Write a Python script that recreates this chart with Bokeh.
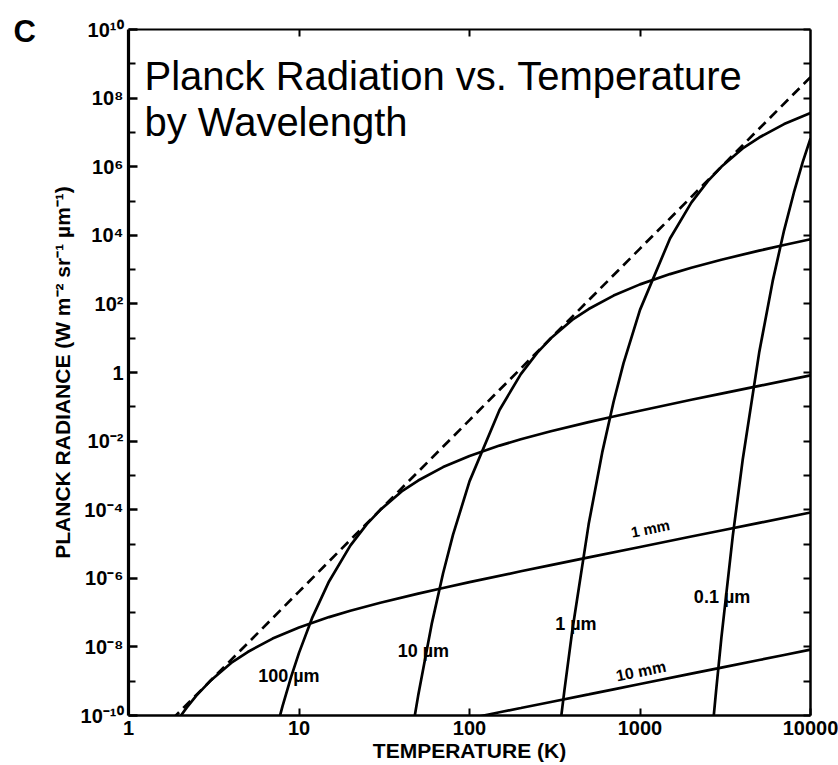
from bokeh.plotting import figure
from bokeh.models import LogAxis, FixedTicker, Label, CustomJSTickFormatter
from bokeh.embed import file_html
from bokeh.resources import INLINE

# ---- data: temperature (K) vs Planck radiance (W m^-2 sr^-1 um^-1)
t_envelope = [1.8, 10, 100, 1000, 10000]
b_envelope = [7.7e-11, 4.1e-7, 4.1e-2, 4.1e3, 4.1e8]

t_10mm = [100, 150, 200, 300, 500, 700, 1000, 2000, 3000, 5000, 7000, 10000]
b_10mm = [8.2e-11, 1.24e-10, 1.65e-10, 2.48e-10, 4.13e-10, 5.8e-10, 8.3e-10,
          1.66e-9, 2.48e-9, 4.14e-9, 5.8e-9, 8.3e-9]

t_1mm = [1.8, 2, 2.2, 2.5, 3, 4, 5, 7, 10, 15, 20, 30, 50, 70, 100, 200, 300,
         500, 1000, 2000, 3000, 5000, 10000]
b_1mm = [4.0e-11, 9.0e-11, 1.72e-10, 3.8e-10, 9.9e-10, 3.4e-9, 7.1e-9, 1.75e-8,
         3.7e-8, 7.4e-8, 1.13e-7, 1.94e-7, 3.57e-7, 5.22e-7, 7.7e-7, 1.6e-6,
         2.43e-6, 4.08e-6, 8.2e-6, 1.65e-5, 2.48e-5, 4.13e-5, 8.3e-5]

t_100um = [7, 7.5, 8, 9, 10, 12, 15, 20, 25, 30, 40, 50, 70, 100, 150, 200, 300,
           500, 700, 1000, 2000, 3000, 5000, 10000]
b_100um = [1.4e-11, 5.6e-11, 1.84e-10, 1.36e-9, 6.7e-9, 7.4e-8, 8.1e-7, 9.0e-6,
           3.8e-5, 9.9e-5, 3.4e-4, 7.1e-4, 1.75e-3, 3.7e-3, 7.4e-3, 1.13e-2,
           1.94e-2, 3.57e-2, 5.22e-2, 7.69e-2, 0.160, 0.243, 0.408, 0.822]

t_10um = [45, 48, 50, 60, 70, 80, 100, 150, 200, 250, 300, 400, 500, 700, 1000,
          1500, 2000, 3000, 5000, 7000, 10000]
b_10um = [1.5e-11, 1.15e-10, 3.8e-10, 4.6e-8, 1.4e-6, 1.84e-5, 6.7e-4, 8.1e-2,
          0.90, 3.8, 9.9, 34, 71, 175, 371, 740, 1130, 1940, 3570, 5220, 7690]

t_1um = [330, 345, 360, 400, 500, 600, 700, 800, 1000, 1500, 2000, 2500, 3000,
         4000, 5000, 7000, 10000]
b_1um = [1.4e-11, 9.3e-11, 5.2e-10, 2.8e-8, 3.8e-5, 4.6e-3, 0.14, 1.84, 67,
         8.1e3, 9.0e4, 3.8e5, 9.9e5, 3.4e6, 7.1e6, 1.75e7, 3.7e7]

t_01um = [2600, 2700, 2800, 3000, 3500, 4000, 5000, 6000, 7000, 8000, 9000, 10000]
b_01um = [1.1e-11, 8.5e-11, 5.8e-10, 1.8e-8, 1.7e-5, 2.8e-3, 3.8, 4.6e2, 1.4e4,
          1.8e5, 1.36e6, 6.7e6]

# tick labels
x_ticks = [1, 10, 100, 1000, 10000]
x_tick_labels = ["1", "10", "100", "1000", "10000"]
y_ticks = [1e-10, 1e-8, 1e-6, 1e-4, 1e-2, 1, 1e2, 1e4, 1e6, 1e8, 1e10]
y_tick_labels = ["10⁻¹⁰", "10⁻⁸", "10⁻⁶", "10⁻⁴", "10⁻²", "1",
                 "10²", "10⁴", "10⁶", "10⁸", "10¹⁰"]
y_minor_ticks = [1e-9, 1e-7, 1e-5, 1e-3, 1e-1, 1e1, 1e3, 1e5, 1e7, 1e9]
y_all_decades = sorted(y_ticks + y_minor_ticks)

# curve labels: text, temperature, radiance, angle, size
curve_labels = [
    ("100 µm", 5.76, 1.45e-9, 0.0, "18px"),
    ("10 µm", 37.9, 7.8e-9, 0.0, "18px"),
    ("1 µm", 318, 4.6e-8, 0.0, "18px"),
    ("0.1 µm", 2070, 2.9e-7, 0.0, "18px"),
    ("1 mm", 886, 2.2e-5, 0.2, "15px"),
    ("10 mm", 724, 1.4e-9, 0.2, "16px"),
]

FONT = "Liberation Sans"

LOOKUP = """
const i = tvals.findIndex(t => Math.abs(Math.log10(t) - Math.log10(tick)) < 1e-6);
return i >= 0 ? tlabels[i] : "";
"""

def label_formatter(tvals, tlabels):
    return CustomJSTickFormatter(args=dict(tvals=list(tvals), tlabels=list(tlabels)),
                                 code=LOOKUP)

p = figure(x_axis_type="log", y_axis_type="log",
           x_range=(1, 10000), y_range=(1e-10, 1e10),
           frame_width=682, frame_height=686,
           min_border_left=128, min_border_right=28,
           min_border_top=29, min_border_bottom=50,
           output_backend="svg", toolbar_location=None,
           background_fill_color="white", border_fill_color="white")
p.outline_line_color = None
p.xgrid.visible = False
p.ygrid.visible = False

# curves
for t, b in [(t_10mm, b_10mm), (t_1mm, b_1mm), (t_100um, b_100um),
             (t_10um, b_10um), (t_1um, b_1um), (t_01um, b_01um)]:
    p.line(t, b, line_color="black", line_width=2.7)
p.line(t_envelope, b_envelope, line_color="black", line_width=2.7,
       line_dash="10 6")

# bottom axis
xa = p.xaxis[0]
xa.ticker = FixedTicker(ticks=x_ticks)
xa.formatter = label_formatter(x_ticks, x_tick_labels)
xa.axis_label = "TEMPERATURE (K)"
xa.axis_label_text_font = FONT
xa.axis_label_text_font_style = "bold"
xa.axis_label_text_font_size = "21px"
xa.axis_label_text_color = "black"
xa.axis_label_standoff = 1
xa.major_label_text_font = FONT
xa.major_label_text_font_style = "bold"
xa.major_label_text_font_size = "20px"
xa.major_label_text_color = "black"
xa.major_label_standoff = 5
xa.major_tick_in = 7
xa.major_tick_out = 0
xa.major_tick_line_width = 2
xa.minor_tick_line_color = None
xa.axis_line_width = 2.5

# left axis
ya = p.yaxis[0]
ya.ticker = FixedTicker(ticks=y_ticks, minor_ticks=y_minor_ticks)
ya.formatter = label_formatter(y_ticks, y_tick_labels)
ya.axis_label = "PLANCK RADIANCE (W m⁻² sr⁻¹ µm⁻¹)"
ya.axis_label_text_font = FONT
ya.axis_label_text_font_style = "bold"
ya.axis_label_text_font_size = "21px"
ya.axis_label_text_color = "black"
ya.axis_label_standoff = 4
ya.major_label_text_font = FONT
ya.major_label_text_font_style = "bold"
ya.major_label_text_font_size = "20px"
ya.major_label_text_color = "black"
ya.major_label_standoff = 5
ya.major_tick_in = 9
ya.major_tick_out = 0
ya.minor_tick_in = 7
ya.minor_tick_out = 0
ya.major_tick_line_width = 2.5
ya.minor_tick_line_width = 2
ya.axis_line_width = 3.2

# top axis (ticks only)
top = LogAxis(ticker=FixedTicker(ticks=[10, 100, 1000]),
              formatter=label_formatter([], []),
              major_tick_in=7, major_tick_out=0, major_tick_line_width=2,
              minor_tick_line_color=None, major_label_text_font_size="2px",
              major_label_text_alpha=0, major_label_standoff=0,
              axis_line_width=2)
p.add_layout(top, "above")

# right axis (ticks only)
right = LogAxis(ticker=FixedTicker(ticks=y_all_decades),
                formatter=label_formatter([], []),
                major_tick_in=7, major_tick_out=0, major_tick_line_width=2,
                minor_tick_line_color=None, major_label_text_font_size="2px",
                major_label_text_alpha=0, major_label_standoff=0,
                axis_line_width=2.5)
p.add_layout(right, "right")

# curve labels
for text, t, b, ang, fs in curve_labels:
    p.add_layout(Label(x=t, y=b, text=text, angle=ang, text_font=FONT,
                       text_font_style="bold", text_font_size=fs,
                       text_align="left", text_baseline="alphabetic",
                       text_color="black"))

# title inside the plot
p.add_layout(Label(x=1, y=1e10, x_offset=16, y_offset=-46,
                   text="Planck Radiation vs. Temperature", text_font=FONT,
                   text_font_size="40px", text_align="left",
                   text_baseline="alphabetic", text_color="black"))
p.add_layout(Label(x=1, y=1e10, x_offset=16, y_offset=-92,
                   text="by Wavelength", text_font=FONT,
                   text_font_size="40px", text_align="left",
                   text_baseline="alphabetic", text_color="black"))

# panel letter (in the left border, outside the frame)
p.add_layout(Label(x=1, y=1e10, x_offset=-115, y_offset=-2, text="C",
                   text_font=FONT, text_font_style="bold",
                   text_font_size="31px", text_align="left",
                   text_baseline="alphabetic", text_color="black"), "left")

open("out.html", "w").write(file_html(p, INLINE))
